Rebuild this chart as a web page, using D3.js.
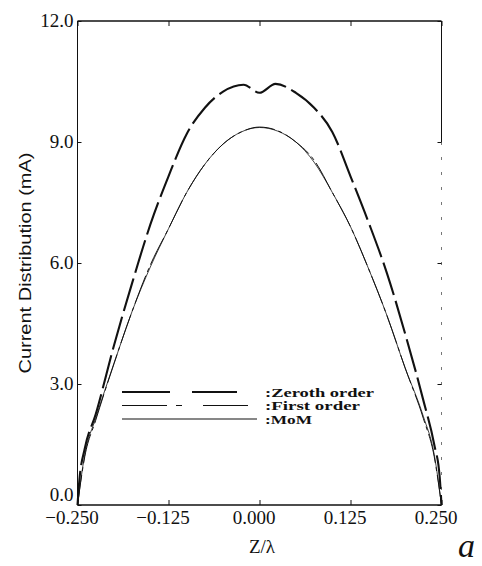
<!DOCTYPE html>
<html>
<head>
<meta charset="utf-8">
<script src="https://cdn.jsdelivr.net/npm/d3@7"></script>
<style>
  html, body { margin: 0; padding: 0; background: #fff; }
  svg { display: block; }
</style>
</head>
<body>
<svg id="chart" width="482" height="566"></svg>
<script>
// Current distribution along the antenna, z/λ from -0.25 to 0.25
const zZero = [-0.25, -0.2475, -0.24, -0.225, -0.2, -0.175, -0.15, -0.125, -0.1, -0.075, -0.05, -0.022, 0, 0.022, 0.05, 0.075, 0.1, 0.125, 0.15, 0.175, 0.2, 0.225, 0.24, 0.2475, 0.25];
const iZero = [0, 0.6, 1.4, 2.25, 3.95, 5.5, 6.95, 8.15, 9.2, 9.85, 10.25, 10.42, 10.22, 10.44, 10.22, 9.85, 9.25, 8.15, 7.0, 5.75, 4.25, 2.6, 1.5, 0.7, 0];

const zFirst = [-0.25, -0.24, -0.225, -0.2, -0.175, -0.15, -0.125, -0.1, -0.075, -0.05, -0.025, 0, 0.025, 0.05, 0.075, 0.1, 0.125, 0.15, 0.175, 0.2, 0.225, 0.24, 0.25];
const iFirst = [0, 1.2, 2.1, 3.5, 4.8, 5.95, 6.85, 7.75, 8.45, 8.95, 9.25, 9.37, 9.28, 9.0, 8.55, 7.75, 6.9, 5.85, 4.7, 3.4, 2.15, 1.2, 0];

const zMoM = [-0.25, -0.24, -0.225, -0.2, -0.175, -0.15, -0.125, -0.1, -0.075, -0.05, -0.025, 0, 0.025, 0.05, 0.075, 0.1, 0.125, 0.15, 0.175, 0.2, 0.225, 0.24, 0.25];
const iMoM = [0, 1.25, 2.15, 3.5, 4.8, 5.9, 6.85, 7.75, 8.45, 8.95, 9.25, 9.36, 9.27, 9.0, 8.5, 7.75, 6.9, 5.85, 4.7, 3.4, 2.2, 1.25, 0];

const xTicks = [-0.25, -0.125, 0, 0.125, 0.25];
const xTickLabels = ["\u22120.250", "\u22120.125", "0.000", "0.125", "0.250"];
const yTicks = [0, 3, 6, 9, 12];
const yTickLabels = ["0.0", "3.0", "6.0", "9.0", "12.0"];

const legendNames = [":Zeroth order", ":First order", ":MoM"];
const legendTextWidths = [109, 95, 47];

const svg = d3.select("#chart");
const plotLeft = 77.5, plotRight = 441.5, plotTop = 21, plotBottom = 505;

const x = d3.scaleLinear().domain([-0.25, 0.25]).range([plotLeft, plotRight]);
const y = d3.scaleLinear().domain([0, 12]).range([plotBottom, plotTop]);

const serif = "'Liberation Serif', 'Times New Roman', serif";
const sans = "'Liberation Sans', Arial, sans-serif";

// Frame
const frame = svg.append("g").attr("stroke", "#111").attr("fill", "none");
frame.append("line").attr("x1", plotLeft).attr("x2", plotRight).attr("y1", plotTop).attr("y2", plotTop).attr("stroke-width", 1.6);
frame.append("line").attr("x1", plotLeft).attr("x2", plotRight).attr("y1", plotBottom).attr("y2", plotBottom).attr("stroke-width", 1.6);
frame.append("line").attr("x1", plotLeft).attr("x2", plotLeft).attr("y1", plotTop).attr("y2", plotBottom).attr("stroke-width", 1);
frame.append("line").attr("x1", plotRight).attr("x2", plotRight).attr("y1", plotTop).attr("y2", y(9)).attr("stroke-width", 1);
frame.append("line").attr("x1", plotRight).attr("x2", plotRight).attr("y1", y(9)).attr("y2", plotBottom)
  .attr("stroke-width", 1).attr("stroke-dasharray", "3,12").attr("stroke", "#777");

// Axes with inward ticks
const xAxisBottom = d3.axisBottom(x).tickValues(xTicks).tickSize(-5).tickFormat((d, i) => xTickLabels[i]);
const gxb = svg.append("g").attr("transform", `translate(0,${plotBottom})`).call(xAxisBottom);
gxb.select(".domain").remove();
gxb.selectAll(".tick line").attr("stroke", "#111");
gxb.selectAll(".tick text")
  .attr("font-family", serif).attr("font-size", 19).attr("fill", "#111")
  .attr("y", 0).attr("dy", "19px").attr("dx", -6);

const xAxisTop = d3.axisTop(x).tickValues(xTicks).tickSize(-5).tickFormat("");
const gxt = svg.append("g").attr("transform", `translate(0,${plotTop})`).call(xAxisTop);
gxt.select(".domain").remove();
gxt.selectAll(".tick line").attr("stroke", "#111");

const yAxisLeft = d3.axisLeft(y).tickValues(yTicks).tickSize(-4).tickFormat((d, i) => yTickLabels[i]);
const gyl = svg.append("g").attr("transform", `translate(${plotLeft},0)`).call(yAxisLeft);
gyl.select(".domain").remove();
gyl.selectAll(".tick line").attr("stroke", "#111");
gyl.selectAll(".tick text")
  .attr("font-family", serif).attr("font-size", 19).attr("fill", "#111")
  .attr("x", -4).attr("dy", d => d === 0 ? "-0.22em" : "0.3em");

const yAxisRight = d3.axisRight(y).tickValues(yTicks).tickSize(-4).tickFormat("");
const gyr = svg.append("g").attr("transform", `translate(${plotRight},0)`).call(yAxisRight);
gyr.select(".domain").remove();
gyr.selectAll(".tick line").attr("stroke", "#111");

// Curves
const line = d3.line().x(d => x(d[0])).y(d => y(d[1])).curve(d3.curveMonotoneX);
const series = [
  { name: legendNames[0], data: d3.zip(zZero, iZero), width: 2.1, plotDash: "34,6", legendDash: "48,22", legendLen: 115 },
  { name: legendNames[1], data: d3.zip(zFirst, iFirst), width: 1.0, plotDash: "30,4,4,4", legendDash: "45,9,6,21", legendLen: 126 },
  { name: legendNames[2], data: d3.zip(zMoM, iMoM), width: 0.8, plotDash: null, legendDash: null, legendLen: 135 }
];

series.forEach(s => {
  svg.append("path")
    .datum(s.data)
    .attr("d", line)
    .attr("fill", "none")
    .attr("stroke", "#111")
    .attr("stroke-width", s.width)
    .attr("stroke-dasharray", s.plotDash);
});

// Legend
const legX = 122, legY0 = 392, legStep = 13.5;
series.forEach((s, i) => {
  const yy = legY0 + i * legStep;
  svg.append("line")
    .attr("x1", legX).attr("x2", legX + s.legendLen)
    .attr("y1", yy).attr("y2", yy)
    .attr("stroke", "#111")
    .attr("stroke-width", i === 0 ? 1.8 : 1.2)
    .attr("stroke-dasharray", s.legendDash);
  svg.append("text")
    .attr("x", 265).attr("y", yy + 4.5)
    .attr("font-family", serif).attr("font-size", 11.5).attr("font-weight", "bold")
    .attr("fill", "#111")
    .attr("textLength", legendTextWidths[i]).attr("lengthAdjust", "spacingAndGlyphs")
    .text(s.name);
});

// Axis titles
svg.append("text")
  .attr("transform", "translate(31,263) rotate(-90)")
  .attr("text-anchor", "middle")
  .attr("font-family", sans).attr("font-size", 17).attr("fill", "#111")
  .attr("textLength", 221).attr("lengthAdjust", "spacingAndGlyphs")
  .text("Current Distribution (mA)");

svg.append("text")
  .attr("x", 262).attr("y", 553)
  .attr("text-anchor", "middle")
  .attr("font-family", serif).attr("font-size", 19).attr("fill", "#111")
  .text("Z/\u03bb");

svg.append("text")
  .attr("x", 458).attr("y", 557)
  .attr("font-family", serif).attr("font-size", 34).attr("font-style", "italic").attr("fill", "#111")
  .text("a");
</script>
</body>
</html>
